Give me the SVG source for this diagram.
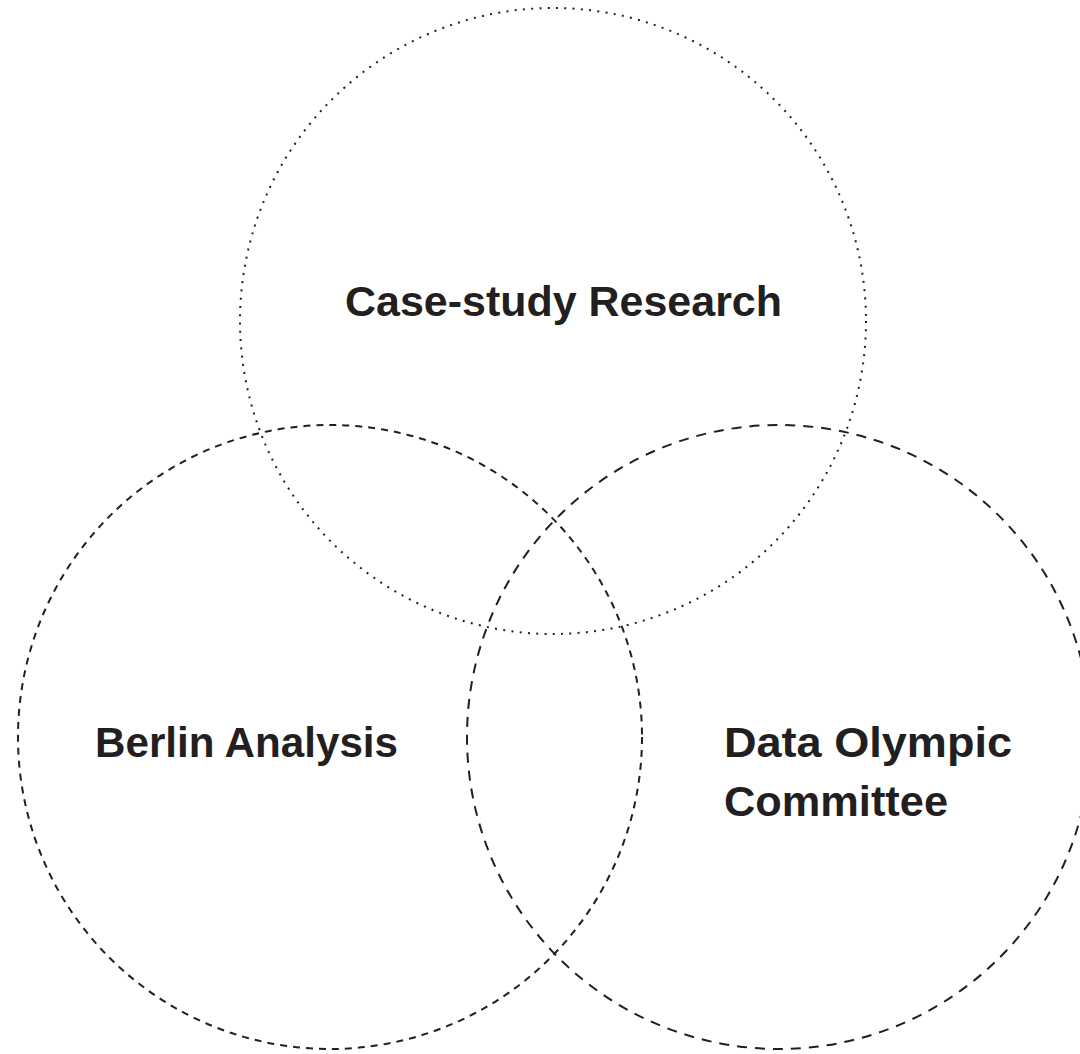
<svg xmlns="http://www.w3.org/2000/svg" width="1080" height="1054" viewBox="0 0 1080 1054">
<style>
.c{fill:none;stroke:#231f20;stroke-width:2}
.dot{stroke-dasharray:2 6.3}
.dl{stroke-dasharray:7 6}
.dr{stroke-dasharray:10 8}
.t{font-family:"Liberation Sans",Arial,sans-serif;font-weight:bold;font-size:42px;fill:#231f20}
</style>
<rect width="1080" height="1054" fill="#fff"/>
<g id="case-study">
<circle class="c dot" cx="553" cy="321" r="313"/>
<text class="t" x="345" y="316" textLength="437" lengthAdjust="spacingAndGlyphs">Case-study Research</text>
</g>
<g id="berlin">
<circle class="c dl" cx="330" cy="737" r="312"/>
<text class="t" x="95" y="757" textLength="303" lengthAdjust="spacingAndGlyphs">Berlin Analysis</text>
</g>
<g id="olympic">
<circle class="c dr" cx="779" cy="737" r="312"/>
<text class="t" x="724" y="757" textLength="288" lengthAdjust="spacingAndGlyphs">Data Olympic</text>
<text class="t" x="724" y="816" textLength="224" lengthAdjust="spacingAndGlyphs">Committee</text>
</g>
<g id="connectors"></g>
</svg>
